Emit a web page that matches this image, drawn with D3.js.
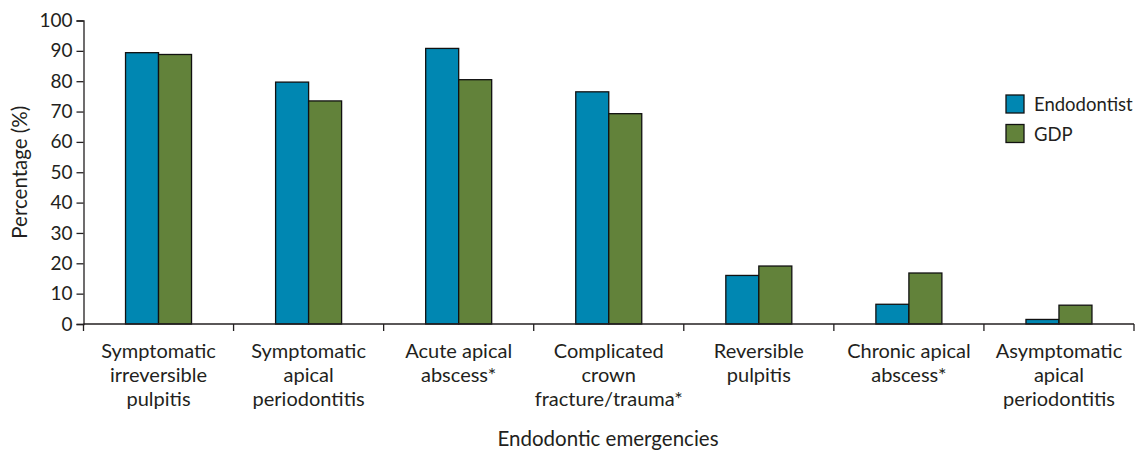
<!DOCTYPE html>
<html>
<head>
<meta charset="utf-8">
<script src="https://cdn.jsdelivr.net/npm/d3@7"></script>
<style>
  html, body { margin: 0; padding: 0; background: #fff; }
  svg text { font-family: Lato, "Open Sans", sans-serif; fill: #231f20; }
</style>
</head>
<body>
<svg id="chart" width="1140" height="452"></svg>
<script>
// Share of respondents (%) treating each endodontic emergency
const categories = [
  ["Symptomatic", "irreversible", "pulpitis"],
  ["Symptomatic", "apical", "periodontitis"],
  ["Acute apical", "abscess*"],
  ["Complicated", "crown", "fracture/trauma*"],
  ["Reversible", "pulpitis"],
  ["Chronic apical", "abscess*"],
  ["Asymptomatic", "apical", "periodontitis"]
];
const seriesNames = ["Endodontist", "GDP"];
const endodontist = [89.4, 79.7, 90.8, 76.5, 16.0, 6.5, 1.5];
const gdp = [88.8, 73.5, 80.5, 69.3, 19.1, 16.8, 6.2];
const yTicks = [0, 10, 20, 30, 40, 50, 60, 70, 80, 90, 100];
const colors = ["#0087b2", "#62823a"];

const svg = d3.select("#chart");
const margin = { left: 83.5, right: 6, top: 20.5, bottom: 128 };
const W = 1140, H = 452;

const keys = categories.map((c, i) => i);
const x = d3.scaleBand().domain(keys).range([margin.left, W - margin.right]);
const inner = d3.scaleBand().domain(seriesNames).range([x.bandwidth() / 2 - 33, x.bandwidth() / 2 + 33]);
const y = d3.scaleLinear().domain([0, 100]).range([H - margin.bottom, margin.top]);

const rows = keys.map(i => ({ i, values: [endodontist[i], gdp[i]] }));

// Bars
const g = svg.append("g");
g.selectAll("g.cat").data(rows).join("g")
  .attr("class", "cat")
  .attr("transform", d => `translate(${x(d.i)},0)`)
  .selectAll("rect").data(d => d.values.map((v, k) => ({ v, k })))
  .join("rect")
  .attr("x", d => inner(seriesNames[d.k]))
  .attr("y", d => y(d.v))
  .attr("width", inner.bandwidth())
  .attr("height", d => y(0) - y(d.v))
  .attr("fill", d => colors[d.k])
  .attr("stroke", "#111")
  .attr("stroke-width", 1.3);

// Y axis
const yAxis = svg.append("g")
  .attr("transform", `translate(${margin.left},0)`)
  .call(d3.axisLeft(y).tickValues(yTicks).tickSize(7).tickPadding(4));
yAxis.select(".domain").attr("stroke", "#231f20").attr("stroke-width", 1.3);
yAxis.selectAll(".tick line").attr("stroke", "#231f20").attr("stroke-width", 1.3);
yAxis.selectAll(".tick text").attr("font-size", 19).style("font-family", "Lato, sans-serif").attr("fill", "#231f20");

// X axis: ticks at category boundaries
const boundaries = keys.map(i => x(i)).concat([x(keys[keys.length - 1]) + x.bandwidth()]);
const xAxisG = svg.append("g").attr("transform", `translate(0,${y(0)})`);
xAxisG.append("line")
  .attr("x1", margin.left).attr("x2", boundaries[boundaries.length - 1])
  .attr("stroke", "#231f20").attr("stroke-width", 1.3);
xAxisG.selectAll("line.tick").data(boundaries).join("line")
  .attr("class", "tick")
  .attr("x1", d => d).attr("x2", d => d)
  .attr("y1", 0).attr("y2", 7)
  .attr("stroke", "#231f20").attr("stroke-width", 1.3);

// Category labels
const labels = svg.append("g").selectAll("text").data(rows).join("text")
  .attr("text-anchor", "middle")
  .attr("font-size", 20)
  .attr("x", d => x(d.i) + x.bandwidth() / 2)
  .attr("y", y(0) + 34);
labels.selectAll("tspan").data(d => categories[d.i]).join("tspan")
  .attr("x", function () { return d3.select(this.parentNode).attr("x"); })
  .attr("dy", (d, j) => j === 0 ? 0 : 24)
  .text(d => d);

// Axis titles
svg.append("text")
  .attr("x", 608)
  .attr("y", 446)
  .attr("text-anchor", "middle")
  .attr("font-size", 20.5)
  .text("Endodontic emergencies");

svg.append("text")
  .attr("transform", `translate(27,${(y(0) + y(100)) / 2}) rotate(-90)`)
  .attr("text-anchor", "middle")
  .attr("font-size", 20.5)
  .text("Percentage (%)");

// Legend
const legend = svg.append("g").attr("transform", "translate(1006,95)");
const items = legend.selectAll("g").data(seriesNames).join("g")
  .attr("transform", (d, k) => `translate(0,${k * 29.5})`);
items.append("rect")
  .attr("width", 18).attr("height", 18)
  .attr("fill", (d, k) => colors[k])
  .attr("stroke", "#111").attr("stroke-width", 1.3);
items.append("text")
  .attr("x", 28).attr("y", 16)
  .attr("font-size", 18.5)
  .text(d => d);
</script>
</body>
</html>
